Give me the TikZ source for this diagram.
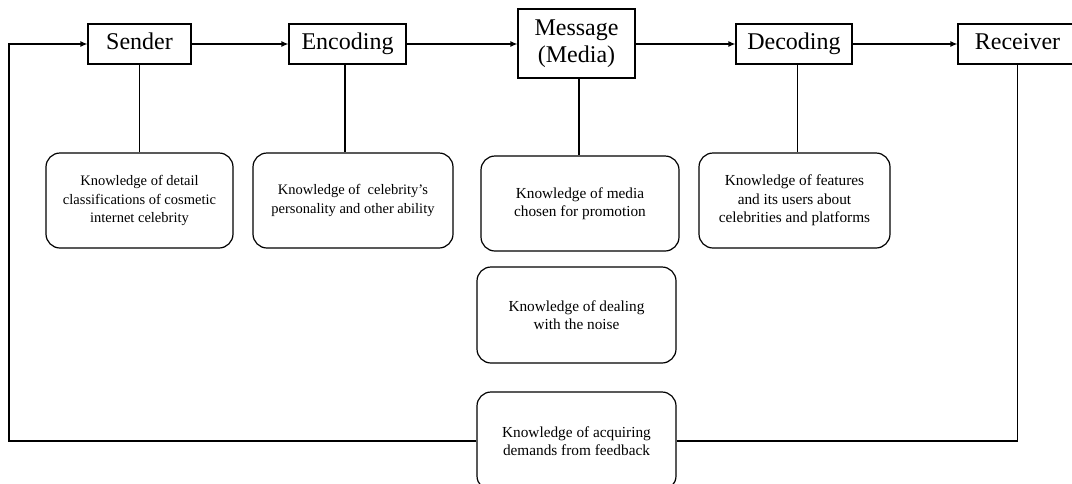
\documentclass[tikz,border=0pt]{standalone}
\usepackage{fontspec}
\setmainfont{Liberation Serif}
\usetikzlibrary{arrows.meta}
\begin{document}
\begin{tikzpicture}[x=1pt,y=-1pt,
  line width=1.2pt,
  head/.style={draw, rectangle, inner sep=0pt, align=center,
    font=\fontsize{24}{27}\selectfont},
  onehead/.style={head, text height=16.5pt, text depth=5.5pt},
  know/.style={draw, rectangle, rounded corners=14pt, inner sep=0pt, align=center,
    font=\fontsize{15.3}{18.5}\selectfont},
  knowsmall/.style={know, font=\fontsize{14.5}{18.5}\selectfont},
  flow/.style={-{Latex[length=7pt,width=6pt]}},
  link/.style={}]
\useasboundingbox (0,0) rectangle (1072,483);

% header boxes
\node[onehead, minimum width=103pt, minimum height=40pt] (sender) at (139.5,44) {Sender};
\node[onehead, minimum width=117pt, minimum height=40pt] (encoding) at (347.5,44) {Encoding};
\node[head, minimum width=117pt, minimum height=69pt] (message) at (576.5,43.5) {Message\\(Media)};
\node[onehead, minimum width=116pt, minimum height=40pt] (decoding) at (794,44) {Decoding};
\node[onehead, minimum width=119pt, minimum height=40pt] (receiver) at (1017.5,44) {Receiver};

% knowledge boxes
\node[knowsmall, minimum width=187pt, minimum height=95pt] (k1) at (139.5,200.5)
  {Knowledge of detail\\classifications of cosmetic\\internet celebrity};
\node[knowsmall, minimum width=200pt, minimum height=95pt] (k2) at (353,200.5)
  {Knowledge of\ \ celebrity’s\\personality and other ability};
\node[know, minimum width=198pt, minimum height=95pt] (k3) at (580,203.5)
  {Knowledge of media\\chosen for promotion};
\node[know, minimum width=191pt, minimum height=95pt] (k4) at (794.5,200.5)
  {Knowledge of features\\and its users about\\celebrities and platforms};
\node[know, minimum width=199pt, minimum height=96pt] (k5) at (576.5,315)
  {Knowledge of dealing\\with the noise};
\node[know, minimum width=199pt, minimum height=98pt] (fb) at (576.5,441)
  {Knowledge of acquiring\\demands from feedback};

% main flow
\draw[flow] (sender) -- (encoding);
\draw[flow] (encoding) -- (message.west |- encoding.east);
\draw[flow] (message.east |- decoding.west) -- (decoding);
\draw[flow] (decoding) -- (receiver);

% vertical links
\draw[link] (sender.south) -- (k1.north);
\draw[link] ([xshift=-2.5pt]encoding.south) -- ([xshift=-2.5pt]encoding.south |- k2.north);
\draw[link] ([xshift=2.5pt]message.south) -- ([xshift=2.5pt]message.south |- k3.north);
\draw[link] ([xshift=3.5pt]decoding.south) -- ([xshift=3.5pt]decoding.south |- k4.north);

% feedback loop
\coordinate (fbL) at (9,441);
\coordinate (fbR) at (receiver.south |- fb.east);
\draw[flow] (fb.west) -- (fbL) -- (fbL |- sender.west) -- (sender.west);
\draw[link] (fb.east) -- (fbR) -- (receiver.south);
\end{tikzpicture}
\end{document}
